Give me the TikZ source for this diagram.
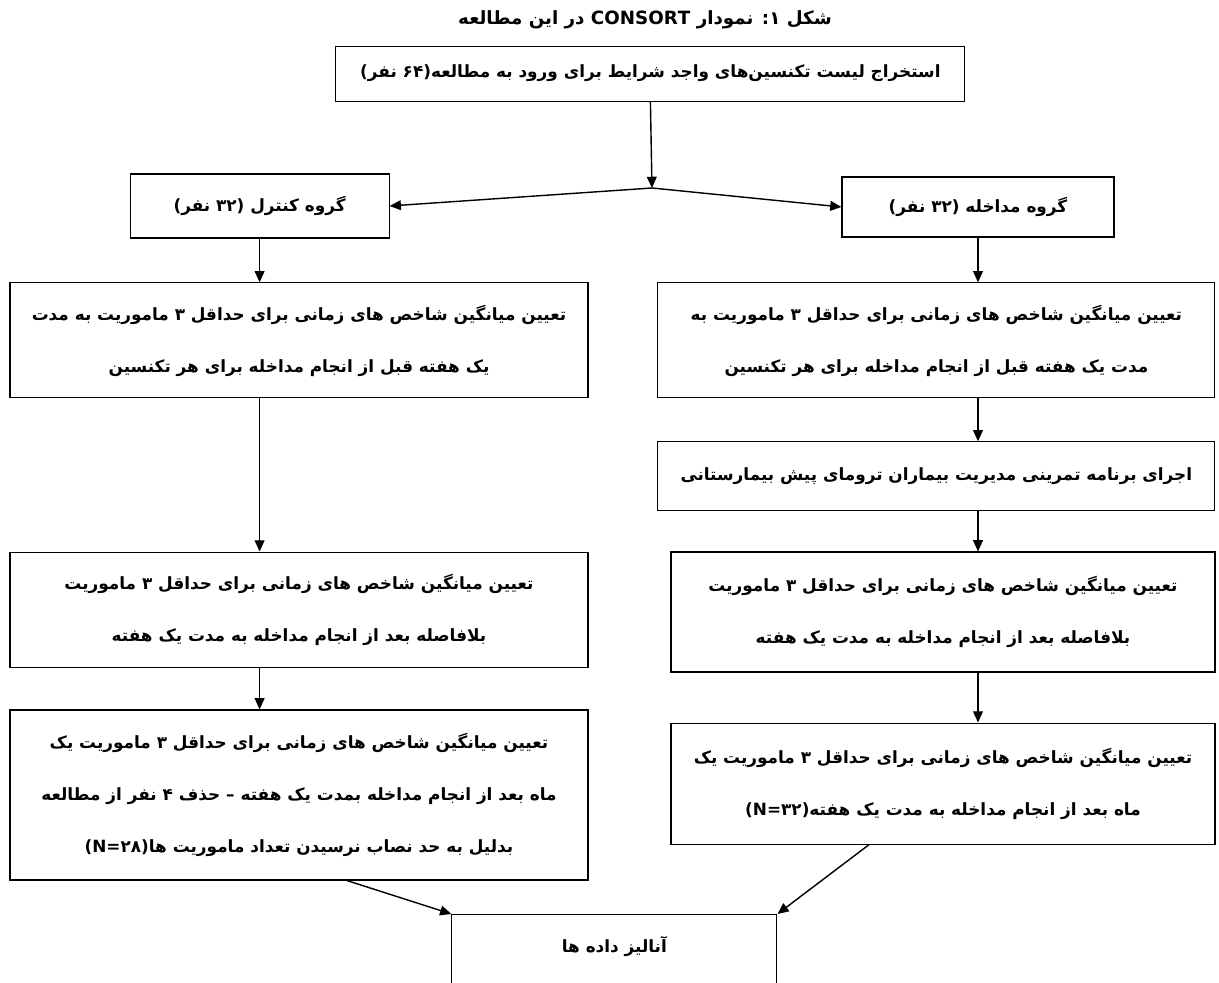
\documentclass[tikz,border=0pt]{standalone}
\usepackage{fontspec}
\newfontfamily\farsi[Script=Arabic]{DejaVu Sans}
\TeXXeTstate=1
\usetikzlibrary{arrows.meta}
\newcommand{\fa}[1]{\beginR #1\endR}

\begin{document}
\begin{tikzpicture}[>={Triangle[length=8pt,width=7pt]}, x=1cm, y=1cm,
  font=\farsi\bfseries\fontsize{12}{37}\selectfont,
  box/.style={draw, line width=0.8pt, inner sep=0pt, align=center},
  flow/.style={->, line width=1pt}]
  \useasboundingbox (0,0) rectangle (30.475,-24.575);
  \node[font=\farsi\bfseries\fontsize{13}{16}\selectfont] (title) at (16.125,-0.5)
    {\fa{شکل ۱: نمودار CONSORT در این مطالعه}};
  \node[box, minimum width=15.725cm, minimum height=1.375cm] (top) at (16.26,-1.84)
    {\fa{استخراج لیست تکنسین‌های واجد شرایط برای ورود به مطالعه(۶۴ نفر)}};
  \coordinate (split) at (16.3,-4.7);
  % two groups
  \node[box, minimum width=6.475cm, minimum height=1.6cm] (ctrl) at (6.49,-5.15)
    {\fa{گروه کنترل (۳۲ نفر)}};
  \node[box, minimum width=6.8cm, minimum height=1.5cm] (intv) at (24.45,-5.175)
    {\fa{گروه مداخله  (۳۲ نفر)}};
  % control arm
  \node[box, minimum width=14.45cm, minimum height=2.875cm] (ctrlpre) at (7.475,-8.51)
    {\fa{تعیین میانگین  شاخص های زمانی برای حداقل ۳ ماموریت به مدت}\\
     \fa{یک هفته قبل از انجام مداخله برای هر تکنسین}};
  \node[box, minimum width=14.45cm, minimum height=2.875cm] (ctrlpost) at (7.475,-15.24)
    {\fa{تعیین میانگین شاخص های زمانی برای حداقل ۳ ماموریت}\\
     \fa{بلافاصله بعد از انجام مداخله به مدت یک هفته}};
  \node[box, minimum width=14.45cm, minimum height=4.25cm] (ctrlmonth) at (7.475,-19.875)
    {\fa{تعیین میانگین شاخص های زمانی برای  حداقل ۳ ماموریت یک}\\
     \fa{ماه بعد از انجام مداخله بمدت یک هفته – حذف ۴ نفر از مطالعه}\\
     \fa{بدلیل به حد نصاب نرسیدن تعداد ماموریت ها\beginL(N=۲۸)\endL}};
  % intervention arm
  \node[box, minimum width=13.925cm, minimum height=2.875cm] (intvpre) at (23.41,-8.51)
    {\fa{تعیین میانگین شاخص های زمانی برای حداقل ۳ ماموریت به}\\
     \fa{مدت یک هفته قبل از انجام مداخله برای هر تکنسین}};
  \node[box, minimum width=13.925cm, minimum height=1.725cm] (train) at (23.41,-11.91)
    {\fa{اجرای برنامه تمرینی مدیریت بیماران ترومای پیش بیمارستانی}};
  \node[box, minimum width=13.6cm, minimum height=3cm] (intvpost) at (23.575,-15.3)
    {\fa{تعیین میانگین شاخص های زمانی برای حداقل ۳ ماموریت}\\
     \fa{بلافاصله بعد از انجام مداخله به مدت یک هفته}};
  \node[box, minimum width=13.6cm, minimum height=3.025cm] (intvmonth) at (23.575,-19.59)
    {\fa{تعیین میانگین شاخص های زمانی برای  حداقل ۳ ماموریت یک}\\
     \fa{ماه بعد از انجام مداخله به مدت یک هفته\beginL(N=۳۲)\endL}};
  \node[box, anchor=north, minimum width=8.125cm, text height=0.95cm, text depth=1.2cm]
    (analysis) at (15.36,-22.85) {\fa{آنالیز داده ها}};

  \draw[flow] (top.south) -- (split);
  \draw[flow] (split) -- (ctrl.east);
  \draw[flow] (split) -- (intv.west);
  \foreach \a/\b in {ctrl/ctrlpre, ctrlpre/ctrlpost, ctrlpost/ctrlmonth}
    \draw[flow] (ctrl.south |- \a.south) -- (ctrl.south |- \b.north);
  \foreach \a/\b in {intv/intvpre, intvpre/train, train/intvpost, intvpost/intvmonth}
    \draw[flow] (intv.south |- \a.south) -- (intv.south |- \b.north);
  \draw[flow] ([xshift=1.2cm]ctrlmonth.south) -- (analysis.north west);
  \draw[flow] ([xshift=-1.85cm]intvmonth.south) -- (analysis.north east);
\end{tikzpicture}
\end{document}
